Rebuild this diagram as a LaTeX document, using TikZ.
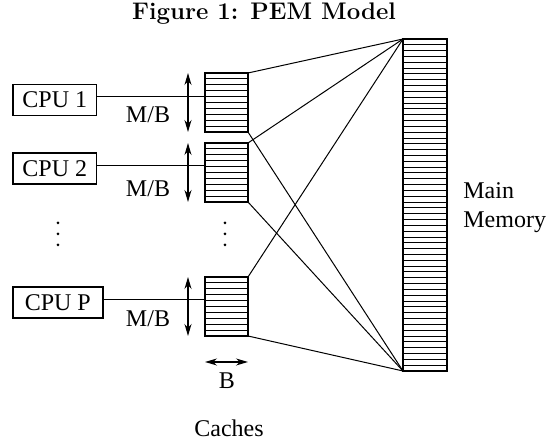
\documentclass[tikz,border=0pt]{standalone}
\usepackage{fontspec}
\newfontfamily\tmfont{Liberation Serif}
\usetikzlibrary{arrows.meta,calc}

\begin{document}
\begin{tikzpicture}[x=0.5pt, y=-0.5pt,
    cpu/.style={draw, line width=0.8pt, font=\tmfont\fontsize{12}{14.5}\selectfont, text height=8pt, text depth=0pt, inner xsep=4.8pt, inner ysep=3.75pt, anchor=west},
    block/.style={draw, line width=0.8pt, minimum width=21.5pt, inner sep=0pt, outer sep=0pt},
    lbl/.style={font=\tmfont\fontsize{12}{14.5}\selectfont, inner sep=0pt, anchor=base},
    wire/.style={line width=0.5pt},
    dim/.style={line width=0.6pt, {Stealth[length=6pt,width=3.5pt]}-{Stealth[length=6pt,width=3.5pt]}}]
    \useasboundingbox (0,0) rectangle (554,442);
    \node[font=\fontsize{12}{14}\selectfont\bfseries] (title) at (264,14) {Figure 1: PEM Model};

    % processors
    \node[cpu] (cpu1) at (12,100) {CPU 1};
    \node[cpu] (cpu2) at (12,168.5) {CPU 2};
    \node[cpu, minimum width=45pt] (cpuP) at (12,302.5) {CPU P};

    % caches and memory
    \node[block, minimum height=29.5pt] (c1) at (226.5,102.5) {};
    \node[block, minimum height=29.5pt] (c2) at (226.5,172.5) {};
    \node[block, minimum height=29.5pt] (cP) at (226.5,306.5) {};
    \node[block, minimum height=166pt, minimum width=22pt] (mem) at (425,205) {};
    \foreach \c in {c1,c2,cP}
        \foreach \i in {1,...,9}
            \draw[wire] ($(\c.north west)!\i/10!(\c.south west)$) -- ($(\c.north east)!\i/10!(\c.south east)$);
    \foreach \i in {1,...,56}
        \draw[wire] ($(mem.north west)!\i/57!(mem.south west)$) -- ($(mem.north east)!\i/57!(mem.south east)$);

    % links
    \foreach \p/\c in {cpu1/c1,cpu2/c2,cpuP/cP}
        \draw[wire] ($(\p.east)+(0,-3)$) coordinate (\p out) -- (\p out -| \c.west);
    \foreach \c in {c1,c2,cP}{
        \draw[wire] (\c.north east) -- (mem.north west);
        \draw[wire] (\c.south east) -- (mem.south west);
        \draw[dim] ($(\c.north west)+(-17,0)$) -- ($(\c.south west)+(-17,0)$);
    }
    \node[lbl] (mb1) at (148,123) {M/B};
    \node[lbl] (mb2) at (148,197) {M/B};
    \node[lbl] (mbP) at (148,327) {M/B};

    % dots
    \foreach \x in {58,225}
        \foreach \y in {223,234,245}
            \fill (\x,\y) circle (0.75pt);

    \draw[dim] ($(cP.south west)+(0,26)$) -- ($(cP.south east)+(0,26)$);
    \node[lbl] (blbl) at (227,389) {B};
    \node[lbl] (caches) at (229,437) {Caches};
    \node[lbl, anchor=base west] (mainlbl) at (463,199) {Main};
    \node[lbl, anchor=base west] (memlbl) at (463,228) {Memory};
\end{tikzpicture}
\end{document}
